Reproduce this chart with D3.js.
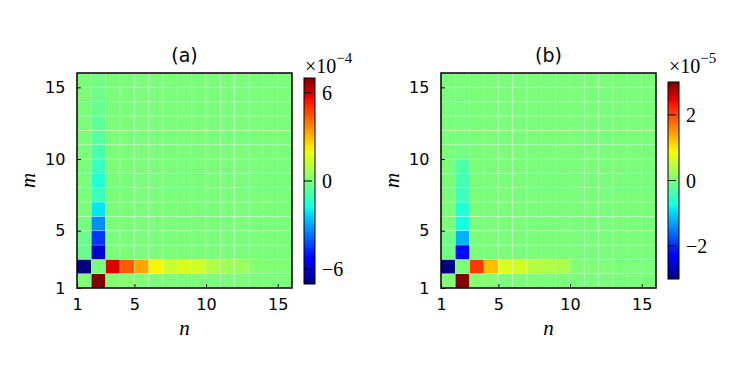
<!DOCTYPE html>
<html>
<head>
<meta charset="utf-8">
<script src="https://cdn.jsdelivr.net/npm/d3@7"></script>
<style>
  body { margin: 0; background: #fff; }
</style>
</head>
<body>
<script>
  // n, m go from 1 to 15 (cell edges 1..16)
  const cellIndex = d3.range(1, 16);
  const ticks = [1, 5, 10, 15];

  // panel (a), units of 1e-4
  const rowA  = [-7.0, 0, 5.9, 4.4, 3.3, 2.1, 1.3, 1.6, 1.4, 0.9, 0.6, 0.5, 0.2, 0.12, 0.08];   // m = 2
  const colA  = [7.0, 0, -6.0, -4.5, -3.3, -2.1, -1.1, -1.5, -1.1, -0.8, -0.6, -0.5, -0.35, -0.25, -0.15]; // n = 2
  const col1A = [0.1, -7.0, -0.3, -0.3, -0.1, 0, 0, 0, 0, 0, 0, 0, 0, 0, 0];  // n = 1
  const row1A = [0.1, 7.0, 0.2, 0.2, 0.1, 0, 0, 0, 0, 0, 0, 0, 0, 0, 0];      // m = 1
  const cbTicksA = [-6, 0, 6];

  // panel (b), units of 1e-5
  const rowB  = [-3.0, 0, 2.1, 1.25, 0.68, 0.62, 0.42, 0.38, 0.35, 0.06, 0.04, 0.03, 0.02, 0.02, 0.01];
  const colB  = [3.0, 0, -2.2, -1.2, -0.75, -0.65, -0.45, -0.4, -0.33, -0.06, -0.04, -0.03, -0.02, -0.02, -0.01];
  const col1B = [0.05, -3.0, -0.1, -0.1, 0, 0, 0, 0, 0, 0, 0, 0, 0, 0, 0];
  const row1B = [0.05, 3.0, 0.08, 0.08, 0, 0, 0, 0, 0, 0, 0, 0, 0, 0, 0];
  const cbTicksB = [-2, 0, 2];

  const WIDTH = 750;
  const HEIGHT = 375;
  const SERIF = '"Liberation Serif", "DejaVu Serif", serif';

  // matplotlib jet
  const jetR = d3.scaleLinear().domain([0, 0.35, 0.66, 0.89, 1]).range([0, 0, 1, 1, 0.5]).clamp(true);
  const jetG = d3.scaleLinear().domain([0, 0.125, 0.375, 0.64, 0.91, 1]).range([0, 0, 1, 1, 0, 0]).clamp(true);
  const jetB = d3.scaleLinear().domain([0, 0.11, 0.34, 0.65, 1]).range([0.5, 1, 1, 0, 0]).clamp(true);
  const jet = t => d3.rgb(jetR(t) * 255, jetG(t) * 255, jetB(t) * 255).formatHex();

  const svg = d3.select('body').append('svg')
    .attr('width', WIDTH)
    .attr('height', HEIGHT);

  const defs = svg.append('defs');

  function panel(p) {
    const x = d3.scaleLinear().domain([1, 16]).range([p.left, p.left + 215]);
    const y = d3.scaleLinear().domain([1, 16]).range([288, 73]);
    const norm = d3.scaleLinear().domain([-p.vmax, p.vmax]).range([0, 1]).clamp(true);

    const cells = [];
    cellIndex.forEach(m => cellIndex.forEach(n => {
      let v = 0;
      if (n === 2) v = p.col[m - 1];
      else if (m === 2) v = p.row[n - 1];
      else if (n === 1) v = p.col1[m - 1];
      else if (m === 1) v = p.row1[n - 1];
      cells.push({ n, m, v });
    }));

    const g = svg.append('g');

    g.selectAll('rect.cell')
      .data(cells)
      .enter()
      .append('rect')
      .attr('class', 'cell')
      .attr('x', d => x(d.n))
      .attr('y', d => y(d.m + 1))
      .attr('width', x(2) - x(1))
      .attr('height', y(1) - y(2))
      .attr('fill', d => jet(norm(d.v)))
      .attr('stroke', '#fff')
      .attr('stroke-opacity', 0.3)
      .attr('stroke-width', 0.8);

    // frame
    g.append('rect')
      .attr('x', x(1)).attr('y', y(16))
      .attr('width', x(16) - x(1)).attr('height', y(1) - y(16))
      .attr('fill', 'none').attr('stroke', '#000').attr('stroke-width', 1.5);

    // inward ticks
    const axisX = d3.axisBottom(x).tickValues(ticks).tickSize(-4).tickPadding(8);
    const gx = g.append('g').attr('transform', `translate(0,${y(1)})`).call(axisX);
    const axisY = d3.axisLeft(y).tickValues(ticks).tickSize(-4).tickPadding(10);
    const gy = g.append('g').attr('transform', `translate(${x(1)},0)`).call(axisY);
    [gx, gy].forEach(a => {
      a.select('.domain').remove();
      a.selectAll('line').attr('stroke', '#000').attr('stroke-width', 1);
      a.selectAll('text').attr('font-size', 16).style('font-family', 'DejaVu Sans').attr('fill', '#000');
    });
    gx.selectAll('text').attr('dy', '0.9em');
    gy.selectAll('text').attr('dx', '-0.1em');

    g.append('text')
      .attr('x', (x(1) + x(16)) / 2).attr('y', 62)
      .attr('text-anchor', 'middle').attr('font-size', 19)
      .style('font-family', 'DejaVu Sans')
      .text(p.title);

    g.append('text')
      .attr('x', (x(1) + x(16)) / 2).attr('y', 335)
      .attr('text-anchor', 'middle').attr('font-size', 21)
      .style('font-family', SERIF).style('font-style', 'italic')
      .text('n');

    g.append('text')
      .attr('transform', `translate(${x(1) - 42},${(y(1) + y(16)) / 2}) rotate(-90)`)
      .attr('text-anchor', 'middle').attr('font-size', 21)
      .style('font-family', SERIF).style('font-style', 'italic')
      .text('m');

    // colorbar
    const cb = d3.scaleLinear().domain([-p.vmax, p.vmax]).range([p.cbBottom, p.cbTop]);
    const grad = defs.append('linearGradient')
      .attr('id', p.id).attr('x1', 0).attr('y1', 1).attr('x2', 0).attr('y2', 0);
    grad.selectAll('stop')
      .data(d3.range(0, 1.0001, 0.01))
      .enter()
      .append('stop')
      .attr('offset', d => d)
      .attr('stop-color', d => jet(d));

    g.append('rect')
      .attr('x', p.cbLeft).attr('y', cb(p.vmax))
      .attr('width', 11).attr('height', cb(-p.vmax) - cb(p.vmax))
      .attr('fill', `url(#${p.id})`)
      .attr('stroke', '#000').attr('stroke-width', 1);

    g.selectAll('line.cbtick')
      .data(p.cbTicks)
      .enter()
      .append('line')
      .attr('class', 'cbtick')
      .attr('x1', p.cbLeft).attr('x2', p.cbLeft + 8)
      .attr('y1', d => cb(d)).attr('y2', d => cb(d))
      .attr('stroke', '#000').attr('stroke-width', 1);

    g.selectAll('text.cblabel')
      .data(p.cbTicks)
      .enter()
      .append('text')
      .attr('class', 'cblabel')
      .attr('x', p.cbLeft + 18).attr('y', d => cb(d) + 7)
      .attr('font-size', 20)
      .style('font-family', SERIF)
      .text(d => d < 0 ? `\u2212${-d}` : `${d}`);

    const exp = g.append('text')
      .attr('x', p.cbLeft + 1).attr('y', 73)
      .attr('font-size', 20)
      .style('font-family', SERIF);
    exp.append('tspan').text('\u00d710');
    exp.append('tspan').attr('dy', -10).attr('font-size', 15).text(p.exp);
  }

  panel({ id: 'gradA', title: '(a)', left: 77, vmax: 7, row: rowA, col: colA, row1: row1A, col1: col1A,
          cbTicks: cbTicksA, cbLeft: 304, cbTop: 78, cbBottom: 284, exp: '\u22124' });
  panel({ id: 'gradB', title: '(b)', left: 441, vmax: 3, row: rowB, col: colB, row1: row1B, col1: col1B,
          cbTicks: cbTicksB, cbLeft: 668, cbTop: 82, cbBottom: 279, exp: '\u22125' });
</script>
</body>
</html>
